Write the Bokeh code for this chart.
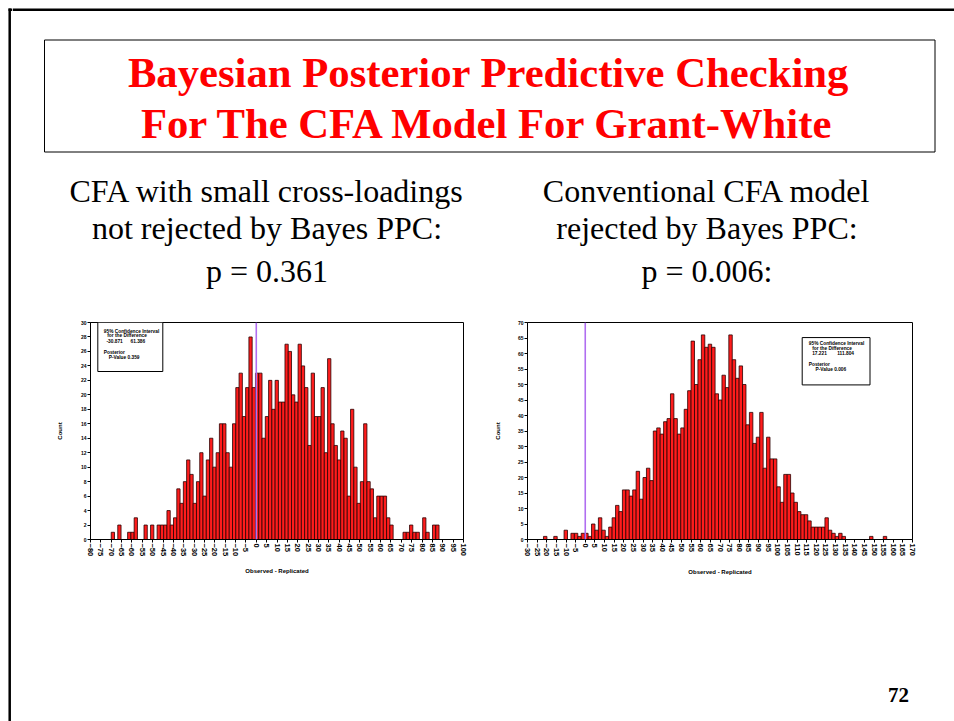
import numpy as np
from bokeh.plotting import figure
from bokeh.layouts import row, column
from bokeh.models import Range1d, FixedTicker, ColumnDataSource, Span
from bokeh.core.properties import value
from bokeh.embed import file_html
from bokeh.resources import INLINE

# ---------------- data ----------------
title_lines = ["Bayesian Posterior Predictive Checking",
               "For The CFA Model For Grant-White"]
left_caption = ["CFA with small cross-loadings", "not rejected by Bayes PPC:", "p = 0.361"]
right_caption = ["Conventional CFA model", "rejected by Bayes PPC:", "p = 0.006:"]
page_number = "72"

# histogram of (observed - replicated) chi-square, 100 bins each
left_bin_start = -70.0
left_bin_width = 1.582
left_counts = [1, 0, 2, 0, 0, 1, 1, 3, 0, 0,
               2, 0, 2, 0, 2, 2, 2, 4, 2, 3,
               7, 5, 8, 11, 9, 5, 8, 12, 6, 11,
               14, 10, 12, 16, 16, 12, 10, 16, 21, 23,
               17, 21, 28, 21, 23, 23, 14, 17, 22, 18,
               22, 19, 19, 27, 26, 20, 19, 27, 24, 21,
               13, 23, 17, 17, 21, 12, 25, 16, 13, 11,
               15, 14, 6, 18, 10, 5, 8, 16, 8, 7,
               3, 6, 6, 6, 3, 2, 0, 0, 0, 1,
               1, 2, 1, 1, 0, 3, 1, 0, 2, 2]

right_bin_start = -21.7
right_bin_width = 1.783
right_counts = [1, 0, 0, 1, 0, 0, 3, 0, 2, 2,
                1, 2, 2, 1, 5, 3, 7, 3, 1, 4,
                7, 11, 9, 16, 16, 14, 16, 22, 13, 20,
                23, 19, 35, 36, 34, 38, 39, 47, 39, 34,
                36, 42, 48, 64, 50, 58, 66, 62, 63, 62,
                47, 45, 53, 49, 66, 58, 52, 56, 50, 37,
                41, 31, 33, 41, 23, 33, 26, 26, 17, 12,
                21, 21, 15, 12, 9, 8, 8, 6, 4, 4,
                4, 4, 7, 3, 2, 1, 2, 1, 0, 0,
                0, 0, 0, 0, 0, 1, 0, 0, 0, 1]

left_x_ticks = list(range(-80, 101, 5))
left_y_ticks = list(range(0, 31, 2))
right_x_ticks = list(range(-30, 171, 5))
right_y_ticks = list(range(0, 71, 5))

left_legend = ["95% Confidence Interval", "for the Difference", "-30.871", "61.386",
               "Posterior", "P-Value 0.359"]
right_legend = ["95% Confidence Interval", "for the Difference", "17.221", "111.804",
                "Posterior", "P-Value 0.006"]

x_label = "Observed - Replicated"
y_label = "Count"

SERIF = value("Liberation Serif")
SANS = value("Liberation Sans")
BAR_FILL = "#FF1C1C"
BAR_LINE = "#2A0000"
REF_LINE = "#B06EF0"


def blank(w, h, x0, x1, y0, y1):
    p = figure(width=w, height=h, x_range=Range1d(x0, x1), y_range=Range1d(y1, y0),
               toolbar_location=None, output_backend="svg", title=None,
               x_axis_type=None, y_axis_type=None, min_border=0)
    p.outline_line_color = None
    p.background_fill_color = "white"
    p.border_fill_color = "white"
    return p


# ---------------- slide left frame strip (page x 0..12) ----------------
strip = blank(12, 721, 0, 12, 0, 721)
strip.segment(x0=[9.2], y0=[8], x1=[9.2], y1=[721], line_color="black", line_width=2.5)
strip.segment(x0=[8], y0=[9.2], x1=[12], y1=[9.2], line_color="black", line_width=2.5)

# ---------------- header (page y 0..300) ----------------
head = blank(942, 300, 12, 954, 0, 300)
head.segment(x0=[12], y0=[9.2], x1=[954], y1=[9.2], line_color="black", line_width=2.5)
head.quad(left=[44], right=[934.5], top=[39.5], bottom=[151.5],
          fill_color=None, line_color="black", line_width=1)
head.text(x=[488, 488], y=[72, 123], text=title_lines, text_align="center",
          text_baseline="alphabetic", text_font=SERIF, text_font_size="42.7px",
          text_font_style="bold", text_color="#FF0000")
head.text(x=[266.5] * 3, y=[190, 227, 270], text=left_caption, text_align="center",
          text_baseline="alphabetic", text_font=SERIF, text_font_size="32px",
          text_color="black")
head.text(x=[706.5] * 3, y=[190, 227, 270], text=right_caption, text_align="center",
          text_baseline="alphabetic", text_font=SERIF, text_font_size="32px",
          text_color="black")


# ---------------- histograms (page y 300..585) ----------------
def hist(counts, start, width, xr, yr, xticks, yticks, fig_w, borders, frame_px,
         legend_text, legend_box_px, legend_pos_px, ylab_standoff, xlab_standoff):
    mb_l, mb_r, mb_t, mb_b = borders
    p = figure(width=fig_w, height=285, x_range=Range1d(*xr), y_range=Range1d(*yr),
               toolbar_location=None, output_backend="svg", title=None,
               min_border_left=mb_l, min_border_right=mb_r,
               min_border_top=mb_t, min_border_bottom=mb_b)
    p.background_fill_color = "white"
    p.border_fill_color = "white"
    p.outline_line_color = "black"
    p.outline_line_width = 1
    p.xgrid.visible = False
    p.ygrid.visible = False

    edges = start + width * np.arange(len(counts) + 1)
    src = ColumnDataSource(dict(left=edges[:-1], right=edges[1:],
                                top=counts, bottom=[0] * len(counts)))
    p.quad(left="left", right="right", top="top", bottom="bottom", source=src,
           fill_color=BAR_FILL, line_color=BAR_LINE, line_width=0.8)
    p.add_layout(Span(location=0, dimension="height", line_color=REF_LINE, line_width=1.6))

    p.xaxis.ticker = FixedTicker(ticks=xticks)
    p.yaxis.ticker = FixedTicker(ticks=yticks)
    p.xaxis.major_label_orientation = "vertical"
    p.axis.minor_tick_line_color = None
    p.axis.major_tick_in = 0
    p.axis.major_tick_out = 3
    p.axis.major_label_standoff = 1
    p.axis.major_label_text_font = "Liberation Sans"
    p.axis.major_label_text_font_style = "bold"
    p.axis.major_label_text_color = "black"
    p.xaxis.major_label_text_font_size = "7.5px"
    p.yaxis.major_label_text_font_size = "5px"
    p.axis.axis_line_color = "black"
    p.axis.major_tick_line_color = "black"
    p.xaxis.axis_label = x_label
    p.yaxis.axis_label = y_label
    p.axis.axis_label_text_font = "Liberation Sans"
    p.axis.axis_label_text_font_style = "bold"
    p.axis.axis_label_text_font_size = "6px"
    p.axis.axis_label_text_color = "black"
    p.yaxis.axis_label_standoff = ylab_standoff
    p.xaxis.axis_label_standoff = xlab_standoff

    fx0, fx1, fy0, fy1 = frame_px

    def dx(px):
        return xr[0] + (px - fx0) / (fx1 - fx0) * (xr[1] - xr[0])

    def dy(py):
        return yr[1] - (py - fy0) / (fy1 - fy0) * (yr[1] - yr[0])

    bl, bt, br, bb = legend_box_px
    p.quad(left=[dx(bl)], right=[dx(br)], top=[dy(bt)], bottom=[dy(bb)],
           fill_color="white", line_color="black", line_width=1)
    p.text(x=[dx(a) for a, b in legend_pos_px], y=[dy(b) for a, b in legend_pos_px],
           text=legend_text, text_font=SANS, text_font_size="4.8px",
           text_font_style="bold", text_baseline="middle", text_align="left",
           text_color="black")
    return p


left = hist(left_counts, left_bin_start, left_bin_width, (-80, 100), (0, 30),
            left_x_ticks, left_y_ticks, 463, (78, 12, 22, 46), (90, 463, 322, 539),
            left_legend, (97.3, 321.7, 162.3, 371),
            [(103.3, 330.7), (106.7, 335.3), (106, 340), (130, 340),
             (103.3, 352), (108.3, 356.7)], 15, 9)

right = hist(right_counts, right_bin_start, right_bin_width, (-30, 170), (0, 70),
             right_x_ticks, right_y_ticks, 479, (52, 42, 16, 43), (527, 912, 316, 542),
             right_legend, (801.7, 331.7, 869.5, 381),
             [(808.3, 338.3), (811.7, 342.7), (811.7, 347.3), (836.7, 347.3),
              (808.3, 360), (815, 364.7)], 14, 10)

# ---------------- footer (page y 585..721) ----------------
foot = blank(942, 136, 12, 954, 585, 721)
foot.text(x=[898], y=[694], text=[page_number], text_align="center",
          text_baseline="alphabetic", text_font=SERIF, text_font_size="21px",
          text_font_style="bold", text_color="black")

layout = row(strip, column(head, row(left, right), foot))

open("out.html", "w").write(file_html(layout, INLINE))
